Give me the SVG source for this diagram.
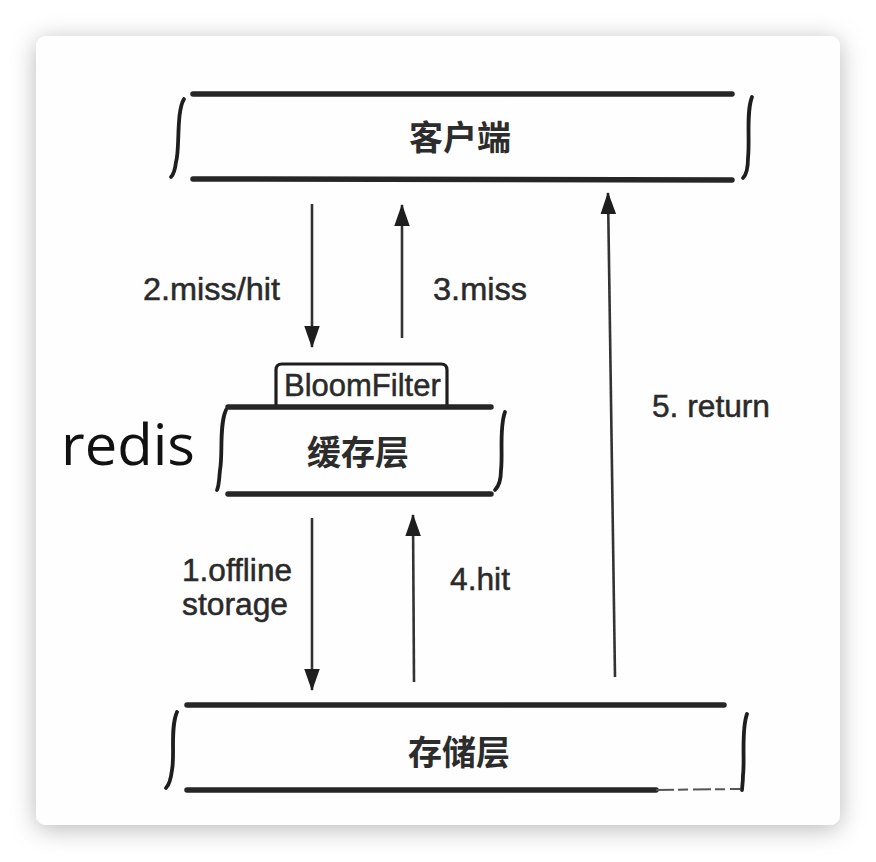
<svg xmlns="http://www.w3.org/2000/svg" width="876" height="862" viewBox="0 0 876 862">
<defs>
  <filter id="shadow" x="-10%" y="-10%" width="120%" height="120%">
    <feDropShadow dx="0" dy="4" stdDeviation="12" flood-color="#000" flood-opacity="0.28"/>
  </filter>
  <marker id="arrow" viewBox="0 0 20 14" refX="19" refY="7" markerWidth="8.5" markerHeight="6" markerUnits="strokeWidth" orient="auto">
    <path d="M0,0 L20,7 L0,14 z" fill="#1e1e1e"/>
  </marker>
  <clipPath id="bfclip"><rect x="276" y="364" width="169" height="42"/></clipPath>
  <style>
    .edge { stroke: #262626; stroke-width: 5.5; stroke-linecap: round; fill: none; }
    .brace { stroke: #1e1e1e; stroke-width: 3.8; stroke-linecap: round; fill: none; }
    .conn { stroke: #333; stroke-width: 2.6; fill: none; marker-end: url(#arrow); }
    .cn { font-family: "Noto Sans CJK SC", "Noto Sans CJK JP", sans-serif; font-size: 34px; font-weight: 700; fill: #2c2c2c; text-anchor: middle; dominant-baseline: central; }
    .lbl { font-family: "Liberation Sans", Arial, sans-serif; font-size: 31px; fill: #2a2a2a; stroke: #2a2a2a; stroke-width: 0.5; }
  </style>
</defs>
<rect width="876" height="862" fill="#ffffff"/>
<rect x="36" y="36" width="804" height="789" rx="10" fill="#fefefe" filter="url(#shadow)"/>

<g id="client">
  <path class="edge" d="M193 94 L732 94"/>
  <path class="edge" d="M193 179 L732 180"/>
  <path class="brace" d="M184 99 C176 112, 180 150, 176 162 C175 170, 174 174, 171 177"/>
  <path class="brace" d="M752 97 C746 112, 750 140, 748 158 C748 168, 747 174, 743 178"/>
  <text class="cn" x="460" y="135">客户端</text>
</g>

<g id="bloomfilter">
  <path d="M276 407 L276 370 Q276 364 282 364 L441 364 Q447 364 447 370 L447 407" stroke="#1e1e1e" stroke-width="3.2" fill="#fff"/>
  <text class="lbl" x="284" y="396" font-size="30" stroke-width="0.3" clip-path="url(#bfclip)">BloomFilter</text>
</g>

<g id="cache">
  <path class="edge" d="M228 407 L491 407"/>
  <path class="edge" d="M228 494 L491 494"/>
  <path class="brace" d="M226 410 C219 425, 223 455, 220 470 C219 480, 219 486, 217 490"/>
  <path class="brace" d="M505 412 C499 428, 503 455, 501 470 C501 478, 499 486, 495 490"/>
  <text class="cn" x="358" y="450">缓存层</text>
</g>

<g id="redis">
  <text x="61" y="465" font-family="'Open Sans', 'Noto Sans', sans-serif" font-size="56" fill="#111" textLength="134" lengthAdjust="spacingAndGlyphs">redis</text>
</g>

<g id="storage">
  <path class="edge" d="M187 705 L724 705"/>
  <path class="edge" d="M187 790 L656 790"/>
  <path d="M656 790 L740 789" stroke="#555" stroke-width="2" stroke-dasharray="18 4 10 5" fill="none"/>
  <path class="brace" d="M177 712 C170 728, 175 755, 172 770 C171 778, 170 784, 166 788"/>
  <path class="brace" d="M747 714 C741 730, 745 760, 743 775 C743 783, 742 787, 742 790"/>
  <text class="cn" x="459" y="750">存储层</text>
</g>

<g id="connectors">
  <line class="conn" x1="312" y1="204" x2="312" y2="347"/>
  <line class="conn" x1="402" y1="338" x2="402" y2="205"/>
  <line class="conn" x1="312" y1="518" x2="312" y2="690"/>
  <line class="conn" x1="414" y1="682" x2="413" y2="515"/>
  <line class="conn" x1="615" y1="677" x2="608" y2="193"/>
</g>

<g id="labels">
  <text class="lbl" x="143" y="300" textLength="137" lengthAdjust="spacingAndGlyphs">2.miss/hit</text>
  <text class="lbl" x="433" y="300" textLength="94" lengthAdjust="spacingAndGlyphs">3.miss</text>
  <text class="lbl" x="182" y="581" font-size="29" textLength="110" lengthAdjust="spacingAndGlyphs">1.offline</text>
  <text class="lbl" x="182" y="615" font-size="29" textLength="106" lengthAdjust="spacingAndGlyphs">storage</text>
  <text class="lbl" x="450" y="590" textLength="60" lengthAdjust="spacingAndGlyphs">4.hit</text>
  <text class="lbl" x="652" y="417" textLength="118" lengthAdjust="spacingAndGlyphs">5. return</text>
</g>
</svg>
